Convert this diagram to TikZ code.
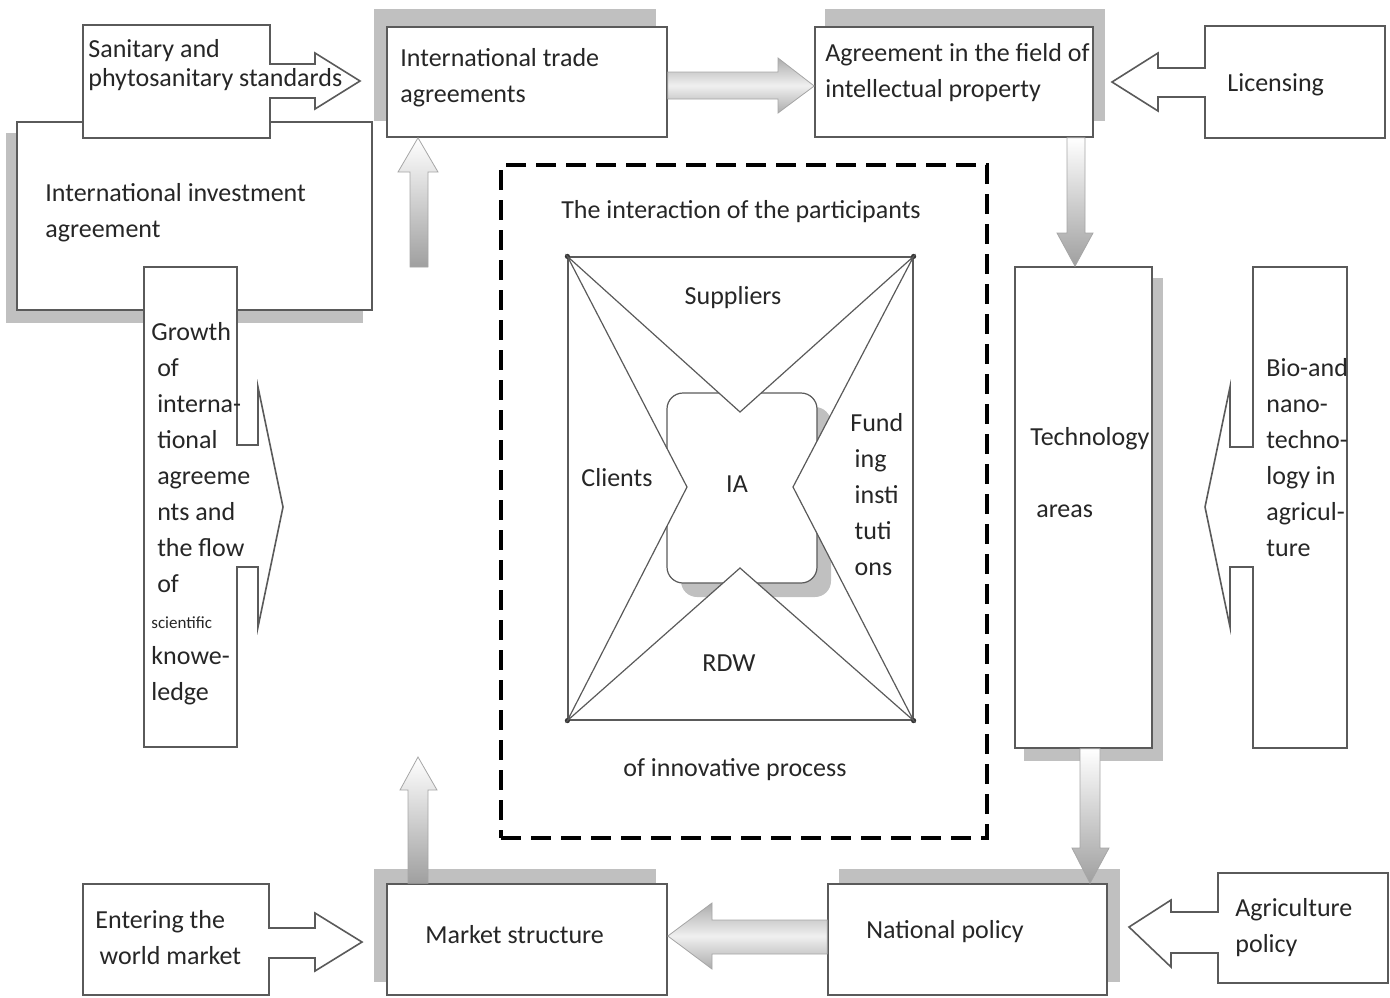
\documentclass[tikz,border=0pt]{standalone}
\usepackage{fontspec}
\setmainfont{Carlito}
\usepackage{tikz}
\usetikzlibrary{fit,calc,positioning,backgrounds}
\usepackage{xcolor}
\definecolor{boxline}{RGB}{90,90,90}
\definecolor{shadowgray}{RGB}{192,192,192}
\tikzstyle{frame} = [rectangle, draw=boxline, fill=white, line width=0.8pt, inner sep=0pt]
\tikzstyle{callout} = [draw=boxline, fill=white, line width=0.8pt]
\tikzstyle{txt} = [anchor=west, align=left, inner sep=0pt, font=\fontsize{13}{18}\selectfont, text=black!85]
\tikzstyle{hblock} = [draw=gray!70, line width=0.4pt, top color=gray!65, bottom color=gray!65, middle color=gray!12]
\tikzstyle{vblock} = [draw=gray!70, line width=0.4pt, top color=white, bottom color=gray!75]
\tikzstyle{dashbox} = [rectangle, draw=black, line width=1.6pt, dash pattern=on 10pt off 5pt, inner sep=0pt]

\begin{document}
\begin{tikzpicture}[x=0.5pt,y=-0.5pt]
\useasboundingbox (0,0) rectangle (1390,997);

% Left column
\node[frame, fit={(17,122) (372,310)}] (invest) {};
\node[txt] (invest-t) at (45,213) {International investment\\agreement};
\draw[callout] (83,25) -- (270,25) -- (270,64) -- (315,64) -- (315,53) -- (360,81) -- (315,109) -- (315,98) -- (270,98) -- (270,138) -- (83,138) -- cycle;
\node[txt, font=\fontsize{13}{14.5}\selectfont] (sanitary) at (88,65) {Sanitary and\\phytosanitary standards};
\draw[callout] (144,267) -- (237,267) -- (237,445) -- (258,445) -- (258,387) -- (283,507) -- (258,627) -- (258,567) -- (237,567) -- (237,747) -- (144,747) -- cycle;
\node[txt] (growth) at (151,514) {Growth\\\ of\\\ interna-\\\ tional\\\ agreeme\\\ nts and\\\ the flow\\\ of\\{\fontsize{8.5}{18}\selectfont scientific}\\knowe-\\ledge};

% Top row
\node[frame, fit={(387,27) (667,137)}] (trade) {};
\node[txt] (trade-t) at (400,78) {International trade\\agreements};
\node[frame, fit={(815,27) (1093,137)}] (ip) {};
\node[txt] (ip-t) at (825,73) {Agreement in the field of\\intellectual property};
\draw[callout] (1385,26) -- (1205,26) -- (1205,68) -- (1158,68) -- (1158,53) -- (1112,82) -- (1158,111) -- (1158,97) -- (1205,97) -- (1205,138) -- (1385,138) -- cycle;
\node[txt] (licensing) at (1227,85) {Licensing};

% Right column
\node[frame, fit={(1015,267) (1152,748)}] (tech) {};
\node[txt] (tech-t) at (1030,473) {Technology\\[18pt]\ areas};
\draw[callout] (1253,267) -- (1347,267) -- (1347,748) -- (1253,748) -- (1253,567) -- (1230,567) -- (1230,627) -- (1205,507) -- (1230,387) -- (1230,447) -- (1253,447) -- cycle;
\node[txt] (bio) at (1266,458) {Bio-and\\nano-\\techno-\\logy in\\agricul-\\ture};

% Bottom row
\draw[callout] (83,884) -- (269,884) -- (269,928) -- (315,928) -- (315,913) -- (362,942) -- (315,971) -- (315,958) -- (269,958) -- (269,995) -- (83,995) -- cycle;
\node[txt] (entering) at (95,938) {Entering the\\\,world market};
\node[frame, fit={(387,884) (667,995)}] (market) {};
\node[txt] (market-t) at (425,935) {Market structure};
\node[frame, fit={(828,884) (1107,995)}] (national) {};
\node[txt] (national-t) at (866,932) {National policy};
\draw[callout] (1388,873) -- (1218,873) -- (1218,912) -- (1171,912) -- (1171,900) -- (1129,927) -- (1171,967) -- (1171,953) -- (1218,953) -- (1218,983) -- (1388,983) -- cycle;
\node[txt] (agri) at (1235,928) {Agriculture\\policy};

% Interaction of the participants
\node[dashbox, fit={(501,165) (987,838)}] (interact) {};
\node[txt, anchor=center] (interact-t) at (741,212) {The interaction of the participants};
\node[txt, anchor=center] (interact-b) at (735,770) {of innovative process};
\node[rectangle, draw=boxline, line width=0.6pt, inner sep=0pt, fit={(568,257) (913,720)}] (partners) {};
\foreach \c in {north west, north east, south east, south west}
  \fill[black!80] (partners.\c) circle (1.3pt);
\coordinate (ia-n) at (740,412);
\coordinate (ia-e) at (793,487);
\coordinate (ia-s) at (740,568);
\coordinate (ia-w) at (687,487);
\begin{scope}
\clip (partners.north west) -- (ia-n) -- (partners.north east) -- (ia-e) -- (partners.south east) -- (ia-s) -- (partners.south west) -- (ia-w) -- cycle;
\fill[shadowgray, rounded corners=8pt] (681,407) rectangle (831,597);
\node[frame, rounded corners=8pt, line width=0.6pt, fit={(667,393) (817,583)}] (ia) {};
\end{scope}
\draw[boxline, line width=0.6pt] (partners.north west) -- (ia-n) -- (partners.north east) -- (ia-e) -- (partners.south east) -- (ia-s) -- (partners.south west) -- (ia-w) -- cycle;
\node[txt, anchor=center] (suppliers) at (733,298) {Suppliers};
\node[txt, anchor=center] (clients) at (617,478) {Clients};
\node[txt, anchor=center] (ia-t) at (737,484) {IA};
\node[txt, anchor=center] (rdw) at (729,663) {RDW};
\node[txt] (funding) at (850,495) {Fund\\\,ing\\\,insti\\\,tuti\\\,ons};

% Block arrows
\draw[hblock] (trade.east |- 0,72) -- (778,72) -- (778,58) -- (ip.west |- 0,86) -- (778,113) -- (778,99) -- (trade.east |- 0,99) -- cycle;
\draw[vblock] (ip.south -| 1067,0) -- (1067,233) -- (1057,233) -- (tech.north -| 1075,0) -- (1093,233) -- (1085,233) -- (ip.south -| 1085,0) -- cycle;
\draw[vblock] (tech.south -| 1080,0) -- (1080,848) -- (1072,848) -- (national.north -| 1090,0) -- (1109,848) -- (1100,848) -- (tech.south -| 1100,0) -- cycle;
\draw[hblock] (national.west |- 0,920) -- (712,920) -- (712,903) -- (market.east |- 0,936) -- (712,969) -- (712,954) -- (national.west |- 0,954) -- cycle;
\coordinate (up-tip) at (418,757);
\draw[vblock] (market.north -| 408,0) -- (408,790) -- (400,790) -- (up-tip) -- (437,790) -- (428,790) -- (market.north -| 428,0) -- cycle;
\coordinate (up-base) at (419,267);
\draw[vblock] (up-base -| 410,0) -- (410,172) -- (398,172) -- (trade.south -| 418,0) -- (438,172) -- (428,172) -- (up-base -| 428,0) -- cycle;

% Shadows
\begin{scope}[on background layer]
\fill[shadowgray] ($(invest.north west)+(-10,12)$) rectangle ($(invest.south east)+(-10,12)$);
\fill[shadowgray] ($(trade.north west)+(-12,-17)$) rectangle ($(trade.south east)+(-12,-17)$);
\fill[shadowgray] ($(ip.north west)+(11,-17)$) rectangle ($(ip.south east)+(11,-17)$);
\fill[shadowgray] ($(tech.north west)+(10,12)$) rectangle ($(tech.south east)+(10,12)$);
\fill[shadowgray] ($(market.north west)+(-12,-14)$) rectangle ($(market.south east)+(-12,-14)$);
\fill[shadowgray] ($(national.north west)+(12,-14)$) rectangle ($(national.south east)+(12,-14)$);
\end{scope}
\end{tikzpicture}
\end{document}
